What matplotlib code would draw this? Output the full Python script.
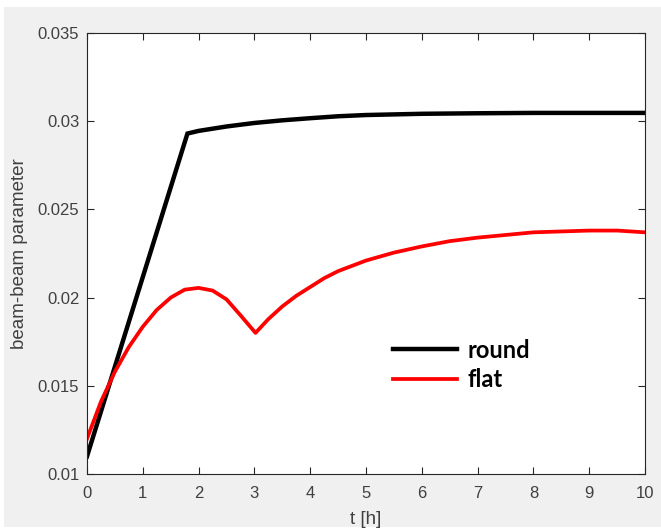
import matplotlib
matplotlib.use("Agg")
import matplotlib.pyplot as plt
from matplotlib.patches import Rectangle
from matplotlib.font_manager import FontProperties

# beam-beam parameter vs time
t_round = [0, 1.8, 2.0, 2.5, 3.0, 3.5, 4.0, 4.5, 5.0, 6.0, 7.0, 8.0, 9.0, 10.0]
bb_round = [0.011, 0.0293, 0.02945, 0.0297, 0.0299, 0.03005, 0.03017, 0.03028,
            0.03035, 0.03042, 0.03045, 0.03047, 0.03047, 0.03047]

t_flat = [0, 0.25, 0.5, 0.75, 1.0, 1.25, 1.5, 1.75, 2.0, 2.25, 2.5, 2.75, 3.02,
          3.25, 3.5, 3.75, 4.0, 4.25, 4.5, 5.0, 5.5, 6.0, 6.5, 7.0, 7.5, 8.0,
          8.5, 9.0, 9.5, 10.0]
bb_flat = [0.012, 0.0141, 0.0158, 0.0172, 0.01835, 0.0193, 0.0200, 0.02045, 0.02055,
           0.0204, 0.0199, 0.0190, 0.0180, 0.01878, 0.0195, 0.0201, 0.0206, 0.0211,
           0.0215, 0.0221, 0.02255, 0.0229, 0.0232, 0.0234, 0.02355, 0.0237,
           0.02375, 0.0238, 0.0238, 0.0237]

labels = ["round", "flat"]
xticks = list(range(0, 11))
yticks = [0.01, 0.015, 0.02, 0.025, 0.03, 0.035]
yticklabels = ["0.01", "0.015", "0.02", "0.025", "0.03", "0.035"]

plt.rcParams["font.family"] = ["Liberation Sans", "DejaVu Sans"]
gray_txt = "#404040"

fig = plt.figure(figsize=(6.61, 5.30), dpi=100, facecolor="white")
fig.patches.append(Rectangle((4 / 661, 3 / 530), 1, (520) / 530, transform=fig.transFigure,
                             facecolor="#f0f0f0", edgecolor="none", zorder=-10))

ax = fig.add_axes([87 / 661, 56 / 530, 558 / 661, 441 / 530])
ax.plot(t_round, bb_round, color="black", lw=3.2, label=labels[0], solid_joinstyle="miter")
ax.plot(t_flat, bb_flat, color="#ff0000", lw=2.7, label=labels[1])

ax.set_xlim(0, 10)
ax.set_ylim(0.01, 0.035)
ax.set_xticks(xticks)
ax.set_yticks(yticks)
ax.set_yticklabels(yticklabels)

ax.tick_params(direction="in", top=True, right=True, length=5, width=0.8,
               color="#262626", labelcolor=gray_txt, labelsize=12)
ax.tick_params(axis="x", pad=9)
ax.tick_params(axis="y", pad=5.5)
for s in ax.spines.values():
    s.set_color("#262626")
    s.set_linewidth(0.8)

ax.set_xlabel("t [h]", fontsize=13.5, color=gray_txt)
ax.set_ylabel("beam-beam parameter", fontsize=13.5, color=gray_txt)
ax.xaxis.set_label_coords(0.5, -0.084)
ax.yaxis.set_label_coords(-0.106, 0.5)

leg = ax.legend(loc="upper left", bbox_to_anchor=(0.548, 0.307), frameon=False,
                prop=FontProperties(family="Lato", weight="bold", size=17),
                handlelength=2.7, handletextpad=0.45, labelspacing=0.28,
                borderpad=0, borderaxespad=0)

fig.savefig("out.png", dpi=100)
